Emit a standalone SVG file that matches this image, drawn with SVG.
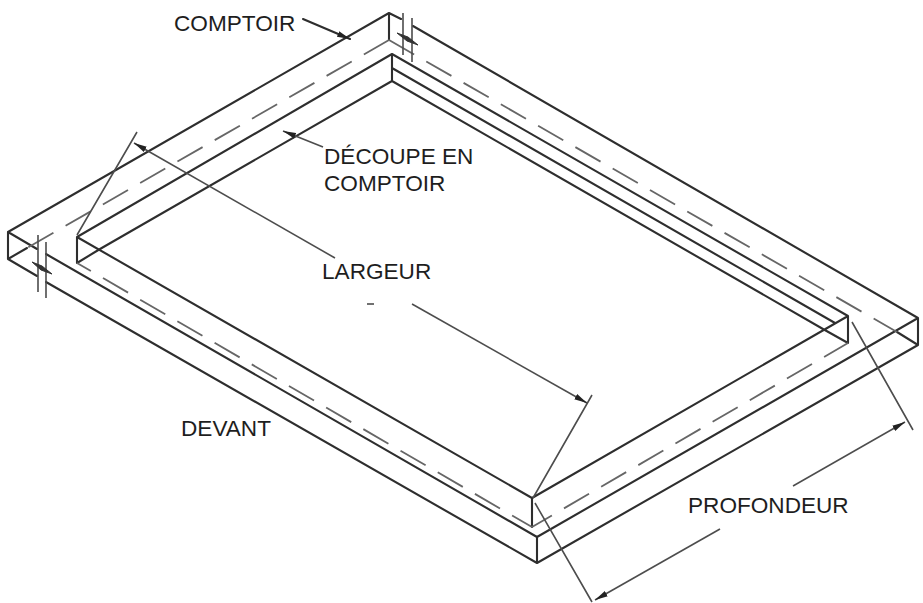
<svg xmlns="http://www.w3.org/2000/svg" width="923" height="603" viewBox="0 0 923 603">
<style>
.e{fill:none;stroke:#2e2e2e;stroke-width:2.1;stroke-linecap:round;stroke-linejoin:round}
.h{fill:none;stroke:#666;stroke-width:1.8;stroke-dasharray:29 14}
.d{fill:none;stroke:#4d4d4d;stroke-width:1.6}
.b{fill:#333;stroke:#333;stroke-width:1;stroke-linejoin:round}
text{font-family:"Liberation Sans",Arial,sans-serif;font-size:22.6px;fill:#1e1e1e}
</style>
<defs><marker id="a" markerWidth="14" markerHeight="8" refX="13" refY="4" orient="auto-start-reverse" markerUnits="userSpaceOnUse"><path d="M0 1L13 4L0 7Z" fill="#222"/></marker></defs>
<rect width="923" height="603" fill="#fff"/>
<g id="connectors">
<path class="e" d="M8 232L389 13L401 19M413 26L918 318V345L537 563L46 282M37 276L8 259V232L37 249M46 254L537 537V563M537 537L918 318M8 259L27 248M918 345L897 332M389 13V40"/>
<path class="e" d="M392 54L77 237V263L100 249L392 81V54L848 316V343L823 329L392 81M392 68L835 323M77 237L532 498V527M532 498L848 316"/>
<path class="h" d="M389 40L27 248"/>
<path class="h" d="M389 40L897 332"/>
<path class="h" stroke-dashoffset="6" d="M532 527L77 263"/>
<path class="h" stroke-dashoffset="6" d="M532 527L848 343"/>
<path class="d" d="M77 235L137 132M533 498L592 395M535 503L592 602M852 322L913 430"/>
<path class="d" marker-start="url(#a)" d="M134 143L335 258"/>
<path class="d" marker-end="url(#a)" d="M412 304L587 403"/>
<path class="d" marker-start="url(#a)" d="M595 600L720 529"/>
<path class="d" marker-end="url(#a)" d="M793 486L905 422"/>
<path class="e" marker-end="url(#a)" d="M303 19L350 39"/>
<path class="d" marker-start="url(#a)" d="M283 131L323 147"/>
<path class="d" d="M403 13V55M412 18V62M38 235V292M46 242V298"/>
<path class="b" d="M397 33L408 37L418 45L407 41ZM32 262L42 266L52 274L41 270Z"/>
<path class="d" d="M367 304H374"/>
</g>
<g id="labels">
<text x="174" y="31">COMPTOIR</text>
<text x="324" y="164">DÉCOUPE EN</text>
<text x="324" y="191">COMPTOIR</text>
<text x="322" y="279">LARGEUR</text>
<text x="181" y="436">DEVANT</text>
<text x="688" y="513">PROFONDEUR</text>
</g>
</svg>
